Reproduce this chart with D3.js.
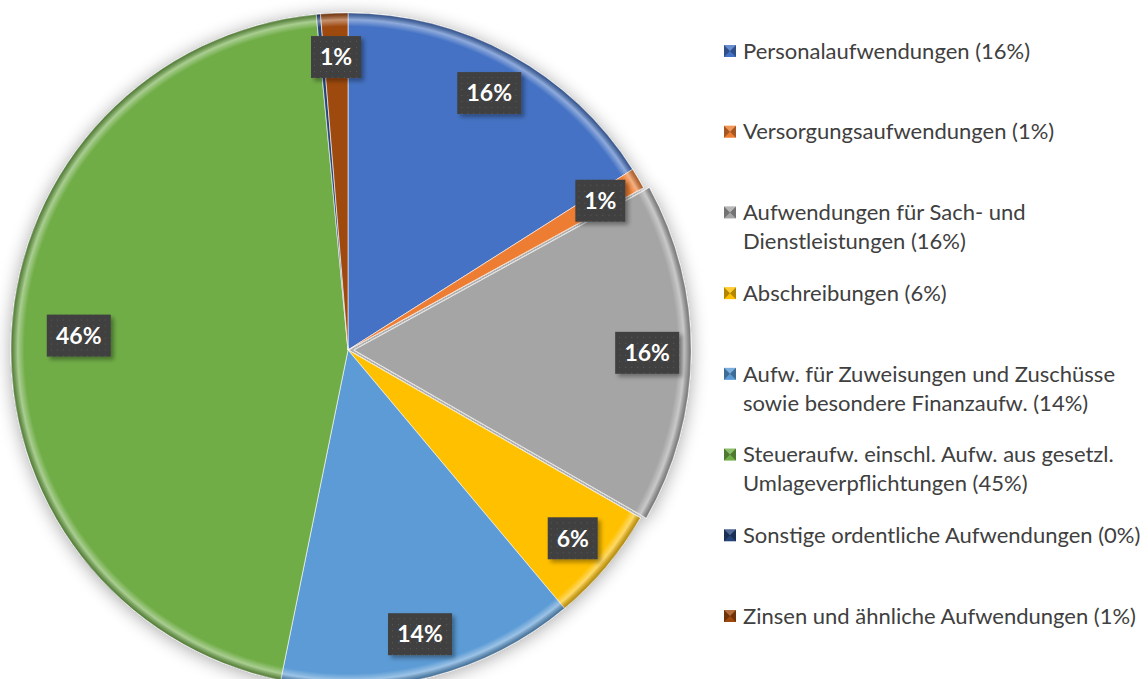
<!DOCTYPE html>
<html>
<head>
<meta charset="utf-8">
<script src="https://cdn.jsdelivr.net/npm/d3@7"></script>
<style>
  body { margin: 0; background: #fff; }
  svg { display: block; font-family: Lato, "Open Sans", sans-serif; }
</style>
</head>
<body>
<svg id="chart" width="1148" height="679"></svg>
<script>
const categories = [
    'Personalaufwendungen',
    'Versorgungsaufwendungen',
    'Aufwendungen für Sach- und Dienstleistungen',
    'Abschreibungen',
    'Aufw. für Zuweisungen und Zuschüsse sowie besondere Finanzaufw.',
    'Steueraufw. einschl. Aufw. aus gesetzl. Umlageverpflichtungen',
    'Sonstige ordentliche Aufwendungen',
    'Zinsen und ähnliche Aufwendungen'
];
const values = [16.0, 1.0, 16.3, 5.6, 14.3, 45.3, 0.2, 1.3];
const sliceLabels = ['16%', '1%', '16%', '6%', '14%', '46%', '', '1%'];
const legendLines = [
    ['Personalaufwendungen (16%)'],
    ['Versorgungsaufwendungen (1%)'],
    ['Aufwendungen für Sach- und', 'Dienstleistungen (16%)'],
    ['Abschreibungen (6%)'],
    ['Aufw. für Zuweisungen und Zuschüsse', 'sowie besondere Finanzaufw. (14%)'],
    ['Steueraufw. einschl. Aufw. aus gesetzl.', 'Umlageverpflichtungen (45%)'],
    ['Sonstige ordentliche Aufwendungen (0%)'],
    ['Zinsen und ähnliche Aufwendungen (1%)']
];
const colors = ['#4472C4', '#ED7D31', '#A5A5A5', '#FFC000', '#5B9BD5', '#70AD47', '#264478', '#9E480E'];

const cx = 348;
const cy = 350;
const radius = 337;
const explodeIndex = 2;
const explodeBy = 6;

const svg = d3.select('#chart');
const defs = svg.append('defs');

const shadow = defs.append('filter')
    .attr('id', 'shadow')
    .attr('x', '-20%').attr('y', '-20%')
    .attr('width', '140%').attr('height', '140%');
shadow.append('feGaussianBlur').attr('in', 'SourceAlpha').attr('stdDeviation', 9);
shadow.append('feOffset').attr('dx', 0).attr('dy', 2).attr('result', 'blur');
shadow.append('feComponentTransfer').append('feFuncA').attr('type', 'linear').attr('slope', 0.35);
const merge = shadow.append('feMerge');
merge.append('feMergeNode');
merge.append('feMergeNode').attr('in', 'SourceGraphic');

const boxShadow = defs.append('filter').attr('id', 'boxShadow')
    .attr('x', '-20%').attr('y', '-20%').attr('width', '150%').attr('height', '160%');
boxShadow.append('feDropShadow').attr('dx', 3).attr('dy', 3)
    .attr('stdDeviation', 2).attr('flood-color', '#000').attr('flood-opacity', 0.35);

const dots = defs.append('pattern')
    .attr('id', 'dots')
    .attr('width', 6).attr('height', 6)
    .attr('patternUnits', 'userSpaceOnUse');
dots.append('rect').attr('width', 6).attr('height', 6).attr('fill', '#404040');
dots.append('rect').attr('x', 2).attr('y', 2).attr('width', 1).attr('height', 1).attr('fill', '#5a5a5a');

// rim bevel: light band just inside the edge, darker right at it
const shade = defs.append('radialGradient')
    .attr('id', 'shade')
    .attr('cx', 0).attr('cy', 0).attr('r', radius)
    .attr('gradientUnits', 'userSpaceOnUse');
shade.append('stop').attr('offset', '0%').attr('stop-color', '#fff').attr('stop-opacity', 0.0);
shade.append('stop').attr('offset', '96%').attr('stop-color', '#fff').attr('stop-opacity', 0.0);
shade.append('stop').attr('offset', '98%').attr('stop-color', '#fff').attr('stop-opacity', 0.4);
shade.append('stop').attr('offset', '100%').attr('stop-color', '#000').attr('stop-opacity', 0.3);

const pie = d3.pie().sort(null).value(d => d);
const arcs = pie(values);

const arc = d3.arc().innerRadius(0).outerRadius(radius);
const labelArc = d3.arc().innerRadius(radius * 0.87).outerRadius(radius * 0.87);
const bigLabelArc = d3.arc().innerRadius(radius * 0.8).outerRadius(radius * 0.8);

const offset = (d, i) => {
    if (i !== explodeIndex) return [0, 0];
    const a = (d.startAngle + d.endAngle) / 2;
    return [Math.sin(a) * explodeBy, -Math.cos(a) * explodeBy];
};

const pieGroup = svg.append('g')
    .attr('transform', 'translate(' + cx + ',' + cy + ')')
    .attr('filter', 'url(#shadow)');

const slices = pieGroup.selectAll('g.slice')
    .data(arcs)
    .enter()
    .append('g')
    .attr('class', 'slice')
    .attr('transform', (d, i) => 'translate(' + offset(d, i) + ')');

slices.append('path')
    .attr('d', arc)
    .attr('fill', (d, i) => colors[i])
    .attr('stroke', '#fff')
    .attr('stroke-opacity', 0.6)
    .attr('stroke-width', 1);

slices.append('path')
    .attr('d', d3.arc().innerRadius(radius - 14).outerRadius(radius))
    .attr('fill', 'url(#shade)');

const labelGroup = svg.append('g')
    .attr('transform', 'translate(' + cx + ',' + cy + ')');

const labels = labelGroup.selectAll('g.label')
    .data(arcs.filter((d, i) => sliceLabels[i] !== ''))
    .enter()
    .append('g')
    .attr('class', 'label')
    .attr('transform', d => {
        const i = d.index;
        const big = (d.endAngle - d.startAngle) > Math.PI * 0.8;
        const c = (big ? bigLabelArc : labelArc).centroid(d);
        const o = offset(d, i);
        return 'translate(' + (c[0] + o[0]) + ',' + (c[1] + o[1]) + ')';
    });

labels.each(function (d) {
    const g = d3.select(this);
    const txt = sliceLabels[d.index];
    const w = txt.length === 2 ? 50 : 64;
    g.append('rect')
        .attr('x', -w / 2).attr('y', -21)
        .attr('width', w).attr('height', 42)
        .attr('fill', 'url(#dots)')
        .attr('filter', 'url(#boxShadow)');
    g.append('text')
        .attr('text-anchor', 'middle')
        .attr('dy', '0.36em')
        .attr('fill', '#fff')
        .attr('font-weight', 'bold')
        .attr('font-size', 23)
        .text(txt);
});

const legendY = d3.scaleLinear()
    .domain([0, categories.length - 1])
    .range([51, 616]);

const legend = svg.append('g').attr('class', 'legend');

const items = legend.selectAll('g.item')
    .data(categories)
    .enter()
    .append('g')
    .attr('class', 'item')
    .attr('transform', (d, i) => 'translate(724,' + legendY(i) + ')');

items.append('rect')
    .attr('x', 0).attr('y', -6)
    .attr('width', 12).attr('height', 12)
    .attr('fill', (d, i) => colors[i]);
items.append('path')
    .attr('d', 'M0,-6 L6,0 L0,6 Z M12,-6 L6,0 L12,6 Z')
    .attr('fill', '#000')
    .attr('fill-opacity', 0.3);
items.append('path')
    .attr('d', 'M0,-6 L12,-6 L6,0 Z')
    .attr('fill', '#fff')
    .attr('fill-opacity', 0.2);

items.append('text')
    .attr('x', 19)
    .attr('fill', '#404040')
    .attr('font-size', 22)
    .selectAll('tspan')
    .data((d, i) => legendLines[i])
    .enter()
    .append('tspan')
    .attr('x', 19)
    .attr('y', (d, j) => j * 29)
    .attr('dy', '0.35em')
    .text(d => d);
</script>
</body>
</html>
